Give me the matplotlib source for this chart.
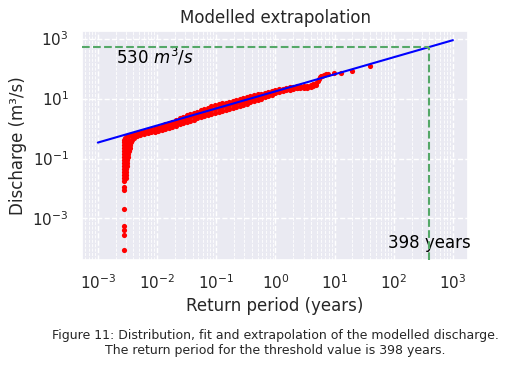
import numpy as np
import matplotlib
matplotlib.use('Agg')
import matplotlib.pyplot as plt
import seaborn as sns
from matplotlib.ticker import LogLocator, NullLocator

sns.set_theme(style='darkgrid')

#%%

# Modelled discharge (m3/s) against empirical return period (years)

# lowest flows, all at the shortest return period
low_period = [0.00281] * 22
low_q = [8.9e-5, 2.9e-4, 4.1e-4, 5.4e-4, 2.1e-3, 8.9e-3, 0.0115,
         0.0178, 0.0224, 0.0282, 0.0355, 0.0447, 0.0562, 0.0708,
         0.0891, 0.112, 0.141, 0.178, 0.224, 0.282, 0.355, 0.414]

# bend where the column turns into the band
bend_period = [0.00292, 0.00309, 0.00334, 0.00368,
               0.00309, 0.00309, 0.00309, 0.00318, 0.00330]
bend_q = [0.482, 0.562, 0.607, 0.617,
          0.178, 0.224, 0.282, 0.355, 0.430]

outer_period = [0.00297, 0.00299, 0.00302, 0.00304, 0.00308, 0.00311,
                0.00315, 0.00320, 0.00326, 0.00334, 0.00343, 0.00354,
                0.00368, 0.00385, 0.00405]
outer_q = [0.0224, 0.0282, 0.0355, 0.0447, 0.0562, 0.0708,
           0.0891, 0.112, 0.141, 0.178, 0.224, 0.282,
           0.355, 0.430, 0.501]

# main band of points (upper edge, middle, lower edge)
band_period = [0.00398, 0.00457, 0.00525, 0.00603, 0.00692, 0.00794,
               0.00912, 0.0105, 0.0120, 0.0138, 0.0158, 0.0182,
               0.0209, 0.0240, 0.0275, 0.0316, 0.0363, 0.0417,
               0.0479, 0.0550, 0.0631, 0.0724, 0.0832, 0.0955,
               0.110, 0.126, 0.145, 0.166, 0.191, 0.219,
               0.251, 0.288, 0.331, 0.380, 0.437, 0.501,
               0.575, 0.661, 0.759, 0.871, 1.00, 1.15,
               1.32, 1.51, 1.74, 2.00, 2.29, 2.63,
               3.02, 3.47, 3.98]
band_q_upper = [0.648, 0.705, 0.767, 0.838, 0.906, 0.978,
                1.05, 1.14, 1.26, 1.38, 1.52, 1.71,
                1.92, 2.17, 2.45, 2.76, 3.04, 3.35,
                3.69, 4.07, 4.48, 4.94, 5.44, 6.00,
                6.48, 6.91, 7.37, 7.85, 8.41, 8.96,
                9.56, 10.2, 10.9, 11.8, 12.7, 13.7,
                14.7, 15.9, 17.2, 18.4, 19.7, 20.6,
                21.5, 22.3, 23.5, 24.8, 25.3, 25.8,
                26.3, 27.1, 28.6]
band_q_mid = [0.588, 0.635, 0.687, 0.745, 0.796, 0.854,
              0.913, 0.980, 1.06, 1.15, 1.24, 1.38,
              1.55, 1.73, 1.93, 2.15, 2.36, 2.58,
              2.84, 3.11, 3.41, 3.75, 4.10, 4.51,
              4.87, 5.22, 5.59, 5.99, 6.43, 6.89,
              7.39, 7.92, 8.54, 9.33, 10.2, 11.1,
              12.1, 13.2, 14.5, 15.8, 17.2, 18.3,
              19.3, 20.5, 21.7, 23.0, 23.4, 23.9,
              24.3, 25.1, 26.5]
band_q_lower = [0.533, 0.573, 0.615, 0.661, 0.699, 0.746,
                0.792, 0.839, 0.897, 0.953, 1.02, 1.12,
                1.25, 1.38, 1.52, 1.67, 1.83, 1.99,
                2.18, 2.38, 2.59, 2.84, 3.09, 3.39,
                3.66, 3.94, 4.25, 4.57, 4.92, 5.30,
                5.71, 6.15, 6.68, 7.41, 8.18, 9.05,
                10.0, 11.0, 12.3, 13.6, 15.1, 16.1,
                17.3, 18.9, 20.0, 21.3, 21.7, 22.1,
                22.5, 23.3, 24.5]

# largest events
tail_period = [4.4, 4.4, 4.9, 4.9, 5.2, 5.4, 5.6, 5.9,
               6.1, 6.6, 7.2, 7.9, 9.85, 13.1, 19.7, 39.4]
tail_q = [30.5, 26.0, 33.0, 28.0, 40.0, 46.0, 52.0, 55.0,
          57.0, 61.0, 66.0, 68.0, 72.0, 70.0, 84.5, 124.0]

# fitted distribution, extrapolated
fit_period = [1e-3, 1e3]
fit_q = [0.34, 890]

threshold_q = 530
threshold_period = 398

#%%

period = np.concatenate([low_period, bend_period, outer_period,
                         band_period, band_period, band_period, tail_period])
discharge = np.concatenate([low_q, bend_q, outer_q,
                            band_q_upper, band_q_mid, band_q_lower, tail_q])

xlim = (5.4e-4, 1.8e3)
ylim = (4.1e-5, 1.8e3)

fig = plt.figure(figsize=(5.08, 3.66), dpi=100)
ax = fig.add_axes([82/508, 106/366, 386/508, 229/366])

ax.scatter(period, discharge, s=14, color='red', linewidths=0, zorder=2)
ax.plot(fit_period, fit_q, color='blue', lw=1.5, zorder=3)

ax.set_xscale('log')
ax.set_yscale('log')
ax.set_xlim(xlim)
ax.set_ylim(ylim)

ax.hlines(threshold_q, xlim[0], threshold_period, color='g', ls='--', lw=1.5, zorder=4)
ax.vlines(threshold_period, ylim[0], threshold_q, color='g', ls='--', lw=1.5, zorder=4)

ax.text(0.002, 150, '530 $m^3/s$', fontsize=12, color='black')
ax.text(80, 1e-4, '398 years', fontsize=12, color='black')

ax.set_xticks([1e-3, 1e-2, 1e-1, 1e0, 1e1, 1e2, 1e3])
ax.set_yticks([1e-3, 1e-1, 1e1, 1e3])
ax.xaxis.set_minor_locator(LogLocator(base=10, subs=np.arange(2, 10)))
ax.yaxis.set_minor_locator(NullLocator())
ax.grid(True, which='major', ls='--', lw=1, color='white')
ax.grid(True, which='minor', axis='x', ls='--', lw=0.6, color='white')

ax.set_title('Modelled extrapolation')
ax.set_xlabel('Return period (years)')
ax.set_ylabel('Discharge (m³/s)')

ax.text(0.5, -0.3, 'Figure 11: Distribution, fit and extrapolation of the modelled discharge.\n'
        'The return period for the threshold value is 398 years.',
        transform=ax.transAxes, ha='center', va='top', fontsize=9)

fig.savefig('out.png', dpi=100)
